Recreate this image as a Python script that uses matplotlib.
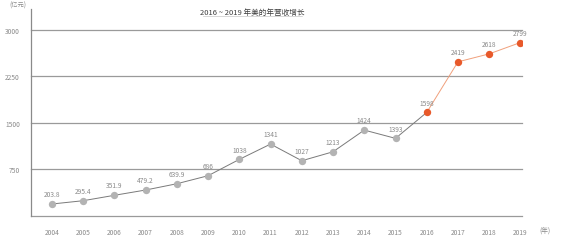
import matplotlib
matplotlib.use("Agg")
import matplotlib.pyplot as plt

plt.rcParams['font.family'] = ['Noto Sans CJK SC', 'DejaVu Sans']

years = [2004, 2005, 2006, 2007, 2008, 2009, 2010, 2011, 2012, 2013, 2014, 2015, 2016, 2017, 2018, 2019]
# plotted heights
values = [193, 246, 333, 418, 519, 648, 911, 1157, 889, 1033, 1382, 1249, 1666, 2480, 2608, 2791]
# value labels as printed on the chart
labels = ["203.8", "295.4", "351.9", "479.2", "639.9", "686", "1038", "1341", "1027", "1213", "1424", "1393", "1598", "2419", "2618", "2799"]
yticks = [750, 1500, 2250, 3000]
highlight_start = 2016

grey_m = '#b3b3b3'
orange = '#e8592a'

fig = plt.figure(figsize=(5.64, 2.53), dpi=100)
ax = fig.add_axes([31/564, 36/253, 491/564, 207/253])
ax.set_xlim(2003.33, 2019.05)
ax.set_ylim(0, 3330)

for y in [0] + yticks:
    ax.axhline(y, color='#9a9a9a', lw=0.9, zorder=1, clip_on=False)

hi = years.index(highlight_start)
ax.plot(years[:hi + 1], values[:hi + 1], color='#7a7a7a', lw=0.7, zorder=2)
ax.plot(years[hi:], values[hi:], color='#f0a07c', lw=0.7, zorder=2)
ax.plot(years[:hi], values[:hi], 'o', color=grey_m, ms=5.3, mec='none', zorder=3)
ax.plot(years[hi:], values[hi:], 'o', color=orange, ms=5.3, mec='none', zorder=3)

for x, v, t in zip(years, values, labels):
    ax.annotate(t, (x, v), xytext=(0, 4.2), textcoords='offset points', ha='center', va='bottom',
                fontsize=4.8, color='#8a8a8a')

for s in ['top', 'right', 'bottom']:
    ax.spines[s].set_visible(False)
ax.spines['left'].set_color('#8a8a8a')
ax.spines['left'].set_linewidth(0.9)

ax.set_xticks(years)
ax.set_xticklabels([str(y) for y in years], fontsize=4.8, color='#8a8a8a')
ax.set_yticks(yticks)
ax.set_yticklabels([str(y) for y in yticks], fontsize=4.8, color='#8a8a8a')
ax.tick_params(length=0, pad=9, axis='x')
ax.tick_params(length=0, pad=8, axis='y')

fig.text(9/564, 1 - 6/253, '(亿元)', fontsize=4.5, color='#8a8a8a', ha='left', va='center')
fig.text(539/564, 1 - 231/253, '(年)', fontsize=4.8, color='#8a8a8a', ha='left', va='center')
fig.text(252/564, 1 - 12.5/253, '2016 ~ 2019 年美的年营收增长', fontsize=5.5, color='#3c3c3c',
         ha='center', va='center', fontweight='medium')
fig.add_artist(plt.Line2D([203/564, 302/564], [1 - 17/253, 1 - 17/253], color='#c8c8c8', lw=0.5))

fig.savefig('out.png', dpi=100)
